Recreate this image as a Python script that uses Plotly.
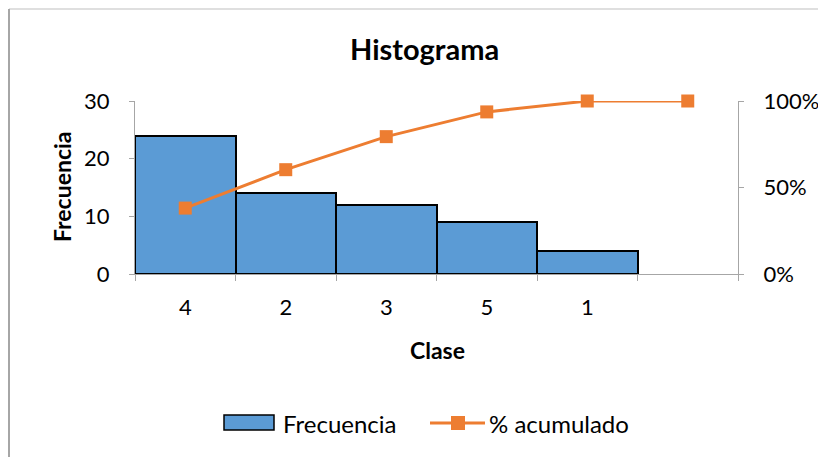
import plotly.graph_objects as go

class_labels = ["4", "2", "3", "5", "1", ""]
frecuencia = [24, 14, 12, 9, 4]
pct_acumulado = [0.381, 0.603, 0.794, 0.937, 1.0, 1.0]

x_pos = list(range(len(class_labels)))
FONT = "Lato"
AXC = "#a6a6a6"
BLUE = "#5B9BD5"
ORANGE = "#ED7D31"

# page body has an 8px margin; figure is sized to fit inside the window
W, H = 818, 449
L, T = 127, 93
PW, PH = 603, 173


def px(xr):
    return (xr - 8 - L) / PW


def py(yr):
    return (T + PH - (yr - 8)) / PH


fig = go.Figure()
fig.add_trace(go.Bar(
    x=x_pos[:len(frecuencia)], y=frecuencia, name="Frecuencia",
    marker=dict(color=BLUE, line=dict(color="black", width=2)),
    width=1.0, showlegend=False,
))
fig.add_trace(go.Scatter(
    x=x_pos, y=pct_acumulado, name="% acumulado", yaxis="y2",
    mode="lines+markers", cliponaxis=False, showlegend=False,
    line=dict(color=ORANGE, width=3),
    marker=dict(symbol="square", size=13, color=ORANGE),
))

LEG_Y = 423
fig.update_layout(
    width=W, height=H,
    margin=dict(l=L, r=W - L - PW, t=T, b=H - T - PH, autoexpand=False),
    paper_bgcolor="white", plot_bgcolor="white",
    font=dict(family=FONT, size=22, color="black"),
    bargap=0,
    xaxis=dict(range=[-0.5, 5.5], tickvals=x_pos, ticktext=class_labels,
               ticks="", showline=True, linecolor=AXC, linewidth=1,
               showgrid=False, zeroline=False, ticklabelstandoff=14,
               minor=dict(tickvals=[i - 0.5 for i in range(7)], ticks="outside",
                          ticklen=6, tickcolor=AXC, tickwidth=1)),
    yaxis=dict(range=[0, 30], tickvals=[0, 10, 20, 30], ticks="outside",
               ticklen=5, tickcolor=AXC, showline=True, linecolor=AXC,
               showgrid=False, zeroline=False, ticklabelstandoff=15),
    yaxis2=dict(range=[0, 1], tickvals=[0, 0.5, 1], tickformat=".0%",
                overlaying="y", side="right", ticks="outside", ticklen=5,
                tickcolor=AXC, showline=True, linecolor=AXC, showgrid=False,
                zeroline=False, ticklabelstandoff=15),
    annotations=[
        dict(text="<b>Histograma</b>", xref="paper", yref="paper",
             x=px(424), y=py(49), showarrow=False,
             xanchor="center", yanchor="middle", font=dict(size=29)),
        dict(text="<b>Clase</b>", xref="paper", yref="paper",
             x=px(437), y=py(350), showarrow=False,
             xanchor="center", yanchor="middle", font=dict(size=23)),
        dict(text="<b>Frecuencia</b>", xref="paper", yref="paper",
             x=px(62), y=py(187), showarrow=False,
             textangle=-90, xanchor="center", yanchor="middle",
             font=dict(size=23)),
        # legend texts
        dict(text="Frecuencia", xref="paper", yref="paper",
             x=px(281), y=py(LEG_Y), showarrow=False,
             xanchor="left", yanchor="middle", font=dict(size=24)),
        dict(text="% acumulado", xref="paper", yref="paper",
             x=px(487), y=py(LEG_Y), showarrow=False,
             xanchor="left", yanchor="middle", font=dict(size=24)),
    ],
    shapes=[
        dict(type="line", xref="paper", yref="paper",
             x0=px(9), x1=px(840), y0=py(9), y1=py(9),
             line=dict(color="#bfbfbf", width=1)),
        dict(type="line", xref="paper", yref="paper",
             x0=px(9), x1=px(9), y0=py(9), y1=py(470),
             line=dict(color="#a6a6a6", width=2)),
        # legend symbols
        dict(type="rect", xref="paper", yref="paper",
             x0=px(224), x1=px(274), y0=py(415), y1=py(430),
             fillcolor=BLUE, line=dict(color="black", width=1.5)),
        dict(type="line", xref="paper", yref="paper",
             x0=px(430), x1=px(485), y0=py(LEG_Y), y1=py(LEG_Y),
             line=dict(color=ORANGE, width=3)),
        dict(type="rect", xref="paper", yref="paper",
             x0=px(451), x1=px(465), y0=py(LEG_Y - 7), y1=py(LEG_Y + 7),
             fillcolor=ORANGE, line=dict(width=0)),
    ],
)

fig.write_html("out.html")
